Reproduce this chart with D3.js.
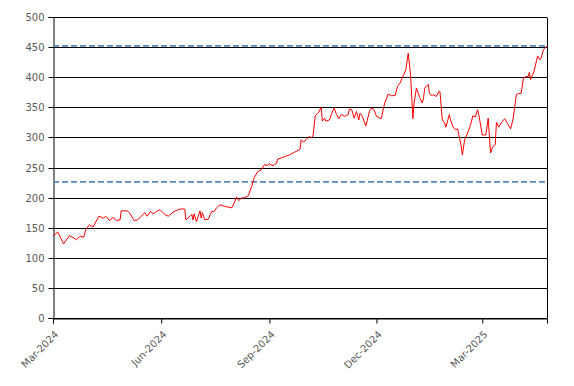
<!DOCTYPE html>
<html>
<head>
<meta charset="utf-8">
<script src="https://cdn.jsdelivr.net/npm/d3@7"></script>
<style>
  html, body { margin: 0; padding: 0; background: #fff; }
  svg { display: block; }
  text { font-family: "DejaVu Sans", Verdana, sans-serif; font-size: 10px; fill: #595959; }
</style>
</head>
<body>
<svg id="chart" width="574" height="386"></svg>
<script>
// ---- data ----
const dates = [
  "2024-03-01","2024-03-05","2024-03-10","2024-03-15","2024-03-21","2024-03-24","2024-03-27","2024-03-29",
  "2024-04-01","2024-04-04","2024-04-09","2024-04-13","2024-04-15","2024-04-18","2024-04-21","2024-04-24",
  "2024-04-27","2024-04-28","2024-05-03","2024-05-05","2024-05-09","2024-05-12","2024-05-15","2024-05-18",
  "2024-05-20","2024-05-23","2024-05-25","2024-05-28","2024-05-31","2024-06-04","2024-06-07","2024-06-10",
  "2024-06-12","2024-06-17","2024-06-21","2024-06-22","2024-06-25","2024-06-27","2024-06-28","2024-06-29",
  "2024-07-01","2024-07-04","2024-07-05","2024-07-06","2024-07-08","2024-07-11","2024-07-14","2024-07-16",
  "2024-07-18","2024-07-21","2024-07-24","2024-07-26","2024-07-31","2024-08-02","2024-08-04","2024-08-06",
  "2024-08-08","2024-08-11","2024-08-14","2024-08-17","2024-08-19","2024-08-22","2024-08-25","2024-08-28",
  "2024-08-30","2024-09-01","2024-09-04","2024-09-07","2024-09-08","2024-09-11","2024-09-14","2024-09-18",
  "2024-09-22","2024-09-27","2024-09-28","2024-09-30","2024-10-02","2024-10-05","2024-10-06","2024-10-08",
  "2024-10-10","2024-10-13","2024-10-15","2024-10-16","2024-10-18","2024-10-19","2024-10-22","2024-10-24",
  "2024-10-26","2024-10-28","2024-10-30","2024-11-01","2024-11-04","2024-11-07","2024-11-08","2024-11-10",
  "2024-11-12","2024-11-14","2024-11-16","2024-11-17","2024-11-19","2024-11-22","2024-11-25","2024-11-27",
  "2024-11-29","2024-12-01","2024-12-04","2024-12-05","2024-12-08","2024-12-11","2024-12-14","2024-12-17",
  "2024-12-19","2024-12-21","2024-12-24","2024-12-26","2024-12-28","2024-12-30","2025-01-01","2025-01-02",
  "2025-01-04","2025-01-07","2025-01-09","2025-01-10","2025-01-11","2025-01-14","2025-01-15","2025-01-17",
  "2025-01-18","2025-01-21","2025-01-23","2025-01-24","2025-01-26","2025-01-28","2025-01-29","2025-02-01",
  "2025-02-02","2025-02-04","2025-02-06","2025-02-08","2025-02-11","2025-02-12","2025-02-14","2025-02-17",
  "2025-02-19","2025-02-21","2025-02-23","2025-02-25","2025-02-26","2025-03-01","2025-03-03","2025-03-04",
  "2025-03-06","2025-03-08","2025-03-10","2025-03-12","2025-03-13","2025-03-15","2025-03-17","2025-03-20",
  "2025-03-23","2025-03-25","2025-03-27","2025-03-28","2025-03-30","2025-04-01","2025-04-03","2025-04-05",
  "2025-04-07","2025-04-09","2025-04-10","2025-04-11","2025-04-14","2025-04-17","2025-04-19","2025-04-20",
  "2025-04-22","2025-04-25"
];
const prices = [
  136,143,123,137,130,136,134,147,
  155,151,169,166,169,162,167,162,
  163,178,178,175,162,163,169,175,
  169,177,173,177,180,172,169,174,
  177,181,181,163,168,172,163,173,
  160,178,166,175,163,164,177,177,
  183,188,186,185,183,191,201,195,
  199,200,203,219,233,243,246,255,
  253,256,253,257,264,266,268,271,
  275,280,296,292,296,302,299,302,
  336,342,350,327,332,327,329,340,
  349,338,331,338,335,338,347,346,
  332,343,329,340,335,319,343,349,
  346,335,332,331,357,372,369,370,
  385,390,404,412,440,404,331,357,
  382,365,357,365,382,388,374,369,
  371,368,376,376,329,324,317,338,
  329,318,313,314,286,271,296,310,
  321,336,334,346,338,304,304,304,
  332,274,285,288,325,317,324,331,
  321,314,329,343,371,373,373,399,
  401,401,408,396,410,435,429,432,
  446,452
];
const upperLevel = 452;   // dashed reference (max)
const lowerLevel = 226;   // dashed reference (half of max)
const yTicks = [0,50,100,150,200,250,300,350,400,450,500];
const xTickLabels = ["2024-03-01","2024-06-01","2024-09-01","2024-12-01","2025-03-01"];
const xDomain = ["2024-03-01","2025-04-25"];

// ---- chart ----
const parse = d3.utcParse("%Y-%m-%d");
const fmt = d3.utcFormat("%b-%Y");
const data = dates.map((d, i) => ({ date: parse(d), value: prices[i] }));

const W = 574, H = 386;
const m = { left: 53, right: 27, top: 17, bottom: 68 };
const svg = d3.select("#chart");

const x = d3.scaleUtc().domain(xDomain.map(parse)).range([m.left, W - m.right]);
const y = d3.scaleLinear().domain([0, 500]).range([H - m.bottom, m.top]);

// gridlines
svg.append("g")
  .selectAll("line").data(yTicks).join("line")
  .attr("x1", m.left).attr("x2", W - m.right)
  .attr("y1", d => Math.round(y(d)) + 0.5).attr("y2", d => Math.round(y(d)) + 0.5)
  .attr("stroke", "#000").attr("stroke-width", 1);

// right border
svg.append("line")
  .attr("x1", W - m.right + 0.5).attr("x2", W - m.right + 0.5)
  .attr("y1", Math.round(y(500)) + 0.5).attr("y2", Math.round(y(0)) + 0.5)
  .attr("stroke", "#000");

// y axis
const yAxis = svg.append("g")
  .attr("transform", `translate(${m.left + 0.5},0)`)
  .call(d3.axisLeft(y).tickValues(yTicks).tickSize(5).tickPadding(4).tickFormat(d3.format("d")));
yAxis.select(".domain").attr("stroke", "#000");
yAxis.selectAll(".tick").attr("transform", d => `translate(0,${Math.round(y(d)) + 0.5})`);
yAxis.selectAll(".tick line").attr("stroke", "#000");
yAxis.selectAll(".tick text").attr("fill", "#595959").style("font-family", "DejaVu Sans").style("font-size", "10px");

// x axis
const xAxis = svg.append("g")
  .attr("transform", `translate(0,${Math.round(y(0)) + 0.5})`)
  .call(d3.axisBottom(x).tickValues(xTickLabels.map(parse)).tickSize(5).tickFormat(fmt));
xAxis.select(".domain").attr("stroke", "#000");
xAxis.selectAll(".tick line").attr("stroke", "#000");
xAxis.selectAll(".tick text")
  .attr("fill", "#595959")
  .style("font-family", "DejaVu Sans").style("font-size", "10px")
  .attr("text-anchor", "end")
  .attr("dy", "0.35em")
  .attr("transform", "translate(3,14) rotate(-45)")
  .attr("y", 0).attr("x", 0);

// dashed reference lines
svg.append("g")
  .selectAll("line").data([upperLevel, lowerLevel]).join("line")
  .attr("x1", m.left).attr("x2", W - m.right)
  .attr("y1", d => y(d)).attr("y2", d => y(d))
  .attr("stroke", "#5289c2").attr("stroke-width", 1.8)
  .attr("stroke-dasharray", "6,3");

// price line
svg.append("path")
  .datum(data)
  .attr("fill", "none")
  .attr("stroke", "#ff0000")
  .attr("stroke-width", 1)
  .attr("stroke-linejoin", "round")
  .attr("d", d3.line().x(d => x(d.date)).y(d => y(d.value)));
</script>
</body>
</html>
